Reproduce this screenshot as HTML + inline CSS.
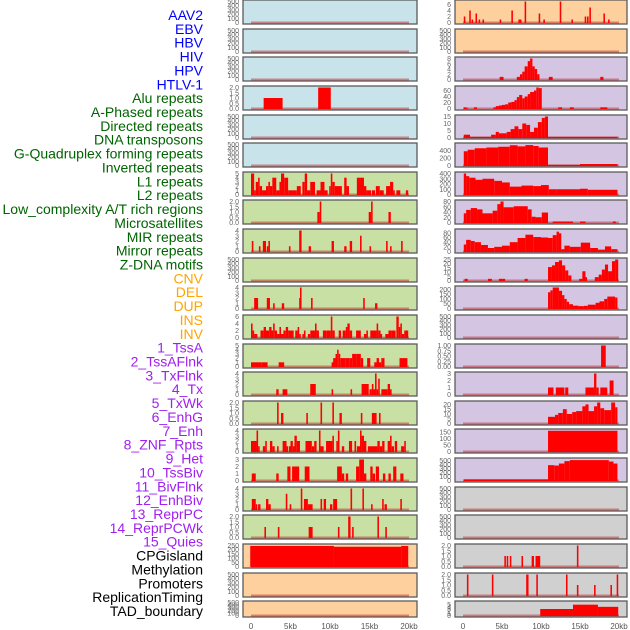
<!DOCTYPE html>
<html><head><meta charset="utf-8"><style>
body{margin:0;background:#fff;width:630px;height:630px;overflow:hidden}
svg{display:block}
</style></head><body>
<svg id="chart" width="630" height="630" xmlns="http://www.w3.org/2000/svg" font-family="Liberation Sans, sans-serif"></svg>
<script>
// ---------- data ----------
const rowLabels = ["AAV2","EBV","HBV","HIV","HPV","HTLV-1","Alu repeats","A-Phased repeats","Directed repeats","DNA transposons","G-Quadruplex forming repeats","Inverted repeats","L1 repeats","L2 repeats","Low_complexity A/T rich regions","Microsatellites","MIR repeats","Mirror repeats","Z-DNA motifs","CNV","DEL","DUP","INS","INV","1_TssA","2_TssAFlnk","3_TxFlnk","4_Tx","5_TxWk","6_EnhG","7_Enh","8_ZNF_Rpts","9_Het","10_TssBiv","11_BivFlnk","12_EnhBiv","13_ReprPC","14_ReprPCWk","15_Quies","CPGisland","Methylation","Promoters","ReplicationTiming","TAD_boundary"];
const labelColors = ["#0000ff","#0000ff","#0000ff","#0000ff","#0000ff","#0000ff","#006400","#006400","#006400","#006400","#006400","#006400","#006400","#006400","#006400","#006400","#006400","#006400","#006400","#ffa500","#ffa500","#ffa500","#ffa500","#ffa500","#a020f0","#a020f0","#a020f0","#a020f0","#a020f0","#a020f0","#a020f0","#a020f0","#a020f0","#a020f0","#a020f0","#a020f0","#a020f0","#a020f0","#a020f0","#000","#000","#000","#000","#000"];
const xTickValues = [0,5,10,15,20];
const xTickLabels = ["0","5kb","10kb","15kb","20kb"];
const EMPTY_TICKS = [0,100,200,300,400,500];
const leftBg = ["blue","blue","blue","blue","blue","blue","green","green","green","green","green","green","green","green","green","green","green","green","green","orange","orange","orange"];
const rightBg = ["orange","orange","purple","purple","purple","purple","purple","purple","purple","purple","purple","purple","purple","purple","purple","purple","purple","grey","grey","grey","grey","grey"];
const leftMax = [500,500,500,2,500,500,5,2,4,500,4,6,5,4,2,4,3,4,2,250,500,500];
const leftTicks = [EMPTY_TICKS,EMPTY_TICKS,EMPTY_TICKS,[0,0.5,1,1.5,2],EMPTY_TICKS,EMPTY_TICKS,[0,1,2,3,4,5],[0,0.5,1,1.5,2],[0,1,2,3,4],EMPTY_TICKS,[0,1,2,3,4],[0,2,4,6],[0,1,2,3,4,5],[0,1,2,3,4],[0,0.5,1,1.5,2],[0,1,2,3,4],[0,1,2,3],[0,1,2,3,4],[0,0.5,1,1.5,2],[0,50,100,150,200,250],EMPTY_TICKS,EMPTY_TICKS];
const leftSeg = [[],[],[],
[[1.6,4.0,1],[8.5,10.1,2]],
[],[],
[[0,0.4,5],[0.4,0.6,1],[0.6,0.9,3],[0.9,1.1,4],[1.1,1.4,2],[1.4,1.9,1],[1.9,2.2,2],[2.2,2.4,3],[2.4,2.7,2],[2.7,3.2,4],[3.2,3.6,1],[3.6,3.8,3],[3.8,4.2,5],[4.2,4.7,4],[4.7,5.8,1],[5.8,6.3,2],[6.5,6.8,3],[6.8,7.1,5],[7.1,7.5,1],[7.5,8.1,3],[8.3,8.8,1],[8.8,9.3,3],[9.3,9.7,1],[9.9,10.1,2],[10.1,10.3,5],[10.3,10.6,3],[10.6,11.5,2],[11.8,12.1,4],[12.1,12.4,2],[13.4,13.8,4],[13.8,14.3,4],[14.3,14.6,2],[14.6,15.2,1],[15.3,15.7,1],[15.8,16.3,2],[16.3,16.8,1],[17.1,17.6,2],[17.6,18,3],[18,18.2,1],[18.4,18.9,1],[19.6,19.9,1]],
[[8.4,8.7,1],[8.7,8.9,2],[14.9,15.2,1],[15.2,15.4,2],[17.4,17.7,1]],
[[0.1,0.3,2],[1,1.2,1],[1.5,1.9,2],[2,2.2,1],[2.2,2.4,2],[4.8,5,1],[6.1,6.4,4],[7.3,7.6,1],[10.2,10.5,2],[11.8,12.1,1],[12.5,12.8,2],[13.8,14,3],[15,15.2,1],[17.1,17.3,2],[17.6,17.8,1],[19,19.2,2]],
[],
[[0.4,0.9,2],[2,2.4,2],[2.8,3,1],[3.9,4.2,1],[6.1,6.3,2],[6.2,6.4,4],[7.6,7.8,2],[14.2,14.4,2],[15.7,16,1]],
[[0,0.2,4],[0.2,0.4,2],[0.4,0.8,1],[1.2,1.6,2],[1.6,1.9,3],[1.9,2.3,2],[2.3,2.6,3],[2.6,2.8,2],[2.8,3.0,4],[3.0,3.3,2],[3.3,3.6,1],[3.6,3.8,3],[3.8,4.1,1],[4.1,4.4,2],[4.4,4.7,3],[4.7,5.4,2],[5.6,5.9,2],[5.9,6.1,3],[6.1,6.3,1],[6.5,6.7,1],[6.7,6.9,2],[7.2,7.5,1],[7.5,8.1,2],[8.1,8.3,4],[8.3,8.6,2],[9.1,9.6,2],[9.6,10.1,2],[10.1,10.3,6],[10.3,10.6,2],[11.1,11.4,2],[11.6,12,2],[12,12.2,3],[12.2,12.5,4],[12.5,12.8,2],[13.3,13.9,2],[14.3,14.6,1],[14.6,14.8,2],[15.1,15.9,2],[15.9,16.1,4],[16.1,16.4,2],[16.4,16.6,1],[17,17.4,1],[17.4,17.8,2],[17.8,18.1,2],[18.1,18.3,2],[18.4,18.7,6],[18.7,18.9,3],[18.9,19.1,4],[19.1,19.4,1],[19.4,19.9,2]],
[[0,1.3,1],[1.3,2.1,1],[3.5,4.2,1],[10.2,10.5,1],[10.4,10.7,2],[10.7,10.9,3],[10.9,11.1,4],[11.1,11.3,3],[11.3,12.0,2],[12.0,12.5,2],[12.5,12.8,2],[12.8,13.4,3],[13.4,13.9,3],[13.9,14.2,2],[14.7,15.1,2],[15.6,16,1],[15.9,16.2,2],[16.2,16.5,1],[16.5,16.9,2],[18.8,19.8,2]],
[[3.2,3.5,1],[4.0,4.6,1],[7.5,8.2,2],[10.2,10.4,1],[12.6,12.8,1],[14.0,14.9,2],[15.0,15.3,1],[15.3,15.5,2],[15.5,15.7,1],[15.7,15.9,4],[15.9,16.1,1],[16.1,16.3,3],[16.5,17.3,1],[17.3,17.6,2],[17.6,17.8,1]],
[[3.3,3.5,2],[3.8,4.1,1],[7.0,7.2,1],[8.8,9.0,2],[10.3,10.5,2],[11.2,11.5,1],[13.9,14.1,1],[15.3,15.7,1],[15.7,15.9,1],[16.2,16.4,1]],
[[0,0.7,2],[0.7,0.9,4],[0.9,1.1,1],[1.5,1.8,1],[1.8,2.0,2],[2.4,2.7,2],[2.7,3.0,1],[3.3,3.5,1],[4.0,4.5,2],[4.5,4.7,1],[4.8,5.0,1],[5.0,5.3,2],[5.3,5.5,1],[5.5,5.8,3],[5.8,6.2,2],[6.9,7.7,2],[7.7,8.0,1],[8.0,8.3,2],[8.6,8.8,4],[8.8,9.2,1],[9.5,10.0,2],[10.0,10.3,2],[10.3,10.5,3],[10.8,11.0,2],[11.0,11.2,4],[11.5,11.8,1],[12.4,12.8,2],[13.1,13.3,2],[13.4,13.9,1],[13.8,14.0,4],[14.0,14.3,3],[14.3,14.6,2],[14.8,16.0,1],[16.0,16.3,2],[16.3,16.6,1],[16.6,16.9,2],[17.3,17.6,2],[17.6,17.8,3],[17.8,18.1,1],[18.2,18.5,2],[19.0,19.4,1],[19.4,19.6,2]],
[[0.1,0.6,1],[3.2,3.5,1],[4.6,5.0,2],[5.2,6.1,2],[6.8,7.4,2],[10.9,11.5,2],[11.5,11.8,1],[12.0,12.3,1],[13.3,13.7,2],[13.7,14.3,3],[14.3,14.6,1],[15.1,15.4,2],[15.4,15.7,1],[15.8,16.2,2],[16.7,17.0,1],[17.4,17.7,1],[18.0,18.4,2],[18.9,19.3,1]],
[[0.1,0.6,2],[0.6,0.8,1],[0.9,1.2,1],[1.9,2.2,2],[2.2,2.5,1],[4.4,4.6,3],[4.9,5.1,1],[6.3,6.5,4],[6.7,7.2,2],[7.2,7.8,1],[8.8,9.0,2],[9.2,9.5,2],[10.0,10.3,1],[10.4,10.9,2],[12.6,12.8,4],[14.1,14.3,4],[15.2,15.4,1],[16.6,16.8,2],[16.9,17.2,1],[18.9,19.1,2]],
[[1.7,1.9,1],[3.4,3.6,1],[7.3,7.8,1],[11.0,11.2,1],[12.3,12.6,2],[12.8,13.0,1],[16.0,16.2,2],[17.0,17.2,1]],
[[-0.1,10.5,245],[10.5,19,235],[19,19.9,245]],
[],[]];
const rightMax = [7,500,8,70,15,560,400,80,90,25,220,500,1,3,22,160,520,500,500,2,2,6];
const rightTicks = [[0,2,4,6],EMPTY_TICKS,[0,2,4,6,8],[0,20,40,60],[0,5,10,15],[0,200,400],[0,100,200,300,400],[0,20,40,60,80],[0,20,40,60,80],[0,5,10,15,20,25],[0,50,100,150,200],EMPTY_TICKS,[0,0.25,0.5,0.75,1],[0,1,2,3],[0,5,10,15,20],[0,50,100,150],[0,100,200,300,400,500],EMPTY_TICKS,EMPTY_TICKS,[0,0.5,1,1.5,2],[0,0.5,1,1.5,2],[0,1,2,3,4,5]];
const rightSeg = [
[[0.1,0.3,2],[0.8,1,4],[1.1,1.3,1],[1.6,1.8,3],[2,2.2,1],[2.5,2.7,1],[4.7,4.9,1],[6.2,6.4,4],[7.1,7.3,1],[7.3,7.5,1],[7.9,8.1,7],[9.7,9.9,3],[10.3,10.5,1],[12.4,12.6,7],[13.9,14.1,1],[15.6,15.8,2],[15.9,16.1,2],[16.2,16.4,5],[18,18.2,3],[18.6,18.8,1]],
[],
[[4.7,5.2,1],[6.9,7.3,1],[7.3,7.6,2],[7.6,7.9,3],[7.9,8.3,5],[8.3,8.6,7],[8.6,8.9,8],[8.9,9.2,5],[9.2,9.5,4],[9.5,9.8,2],[11.0,11.5,1],[17.6,18.0,1]],
[[0.1,0.4,4],[0.4,0.6,3],[1.4,1.8,4],[3.9,4.2,4],[4.2,4.6,8],[4.6,5,10],[5,5.4,12],[5.4,5.8,14],[5.8,6.2,20],[6.2,6.6,22],[6.6,6.9,28],[6.9,7.2,38],[7.2,7.6,45],[7.6,7.9,34],[7.9,8.3,40],[8.3,8.6,48],[8.6,9.1,55],[9.1,9.4,60],[9.4,9.7,70],[9.7,10.1,68],[12.2,12.7,4],[13.7,14.2,4],[17.6,18,4],[18,18.5,4]],
[[0.1,0.9,2],[0.9,3.6,0.5],[3.6,4.2,2],[4.2,4.6,4],[4.6,5.6,3],[5.6,6.1,4],[6.1,6.6,6],[6.6,7.1,8],[7.1,7.6,6],[7.6,8.1,10],[8.1,8.6,9],[8.6,9.1,4],[9.1,9.6,7],[9.6,10.1,11],[10.1,10.5,14],[10.5,10.9,15],[10.9,19.8,0.5]],
[[0.1,0.6,380],[0.6,1.5,420],[1.5,3,460],[3,4.5,480],[4.5,6,500],[6,7,540],[7,8,510],[8,9,545],[9,9.7,520],[9.7,10.9,480],[10.9,15,20],[15,19.8,40]],
[[0.1,0.4,400],[0.4,0.8,350],[0.8,1.6,320],[1.6,2.5,280],[2.5,4,300],[4,5,260],[5,6,230],[6,7.5,150],[7.5,9,170],[9,10,160],[10,11,180],[11,12,100],[12,15,100],[15,16,110],[16,19.8,90]],
[[0.1,0.4,35],[0.4,1,48],[1,1.8,55],[1.8,2.5,50],[2.5,3.8,35],[3.8,4.4,45],[4.4,4.8,70],[4.8,5.2,80],[5.2,6.5,58],[6.5,8.3,62],[8.3,8.8,50],[8.8,9.3,22],[9.3,10.1,20],[10.1,10.9,38],[11.5,14.1,4],[15,15.7,4],[19.2,19.6,4]],
[[0.1,0.4,30],[0.4,1,50],[1,1.5,45],[1.5,2.3,40],[2.3,3.2,28],[3.2,4,15],[4,5,20],[5,6,25],[6,7,40],[7,8,58],[8,9,72],[9,10,62],[10,10.9,60],[10.9,11.5,58],[11.5,12,70],[12,12.3,85],[12.3,12.6,78],[12.6,13,10],[13,13.7,25],[13.7,15.1,20],[15.1,16.3,38],[16.3,17.3,15],[17.3,18.2,8],[18.2,19,22],[19,19.8,10]],
[[0.2,0.6,2],[3.2,3.7,2],[4.6,5.4,2],[7.9,8.3,2],[10.9,11.4,16],[11.4,11.8,18],[11.8,12.3,22],[12.3,12.7,24],[12.7,13.1,18],[13.1,13.5,12],[13.5,13.9,6],[14.9,15.3,2],[15.3,15.7,11],[15.7,15.9,4],[16.9,17.4,4],[17.4,17.8,7],[17.8,18.2,13],[18.2,18.6,19],[18.6,19.1,11],[19.1,19.5,23],[19.5,19.9,25]],
[[10.9,11.2,170],[11.2,11.5,190],[11.5,12.3,220],[12.3,12.7,185],[12.7,13,140],[13,13.3,100],[13.3,13.6,70],[13.6,14.1,45],[14.1,14.8,30],[14.8,15.5,25],[15.5,16,28],[16,17,40],[17,17.5,60],[17.5,18.1,75],[18.1,18.5,100],[18.5,19.5,125],[19.5,19.8,115]],
[],
[[17.7,18.3,1]],
[[10.9,11.6,1],[11.9,13,1],[13.1,13.5,1],[15.7,16.8,1],[16.8,17.1,3],[17.1,17.4,1],[17.6,18.5,1],[18.8,19.3,2]],
[[10.9,11.8,7],[11.8,12.2,9],[12.2,12.8,11],[12.8,13.3,15],[13.3,14,10],[14,14.5,12],[14.5,15.3,13],[15.3,15.7,18],[15.7,16.1,20],[16.1,16.8,13],[16.8,17.2,18],[17.2,17.6,22],[17.6,18.1,16],[18.1,19,14],[19,19.5,23],[19.5,19.8,17]],
[[10.9,19.8,158]],
[[0.1,10.9,30],[10.9,11.7,380],[11.7,12.3,370],[12.3,13,420],[13,13.7,480],[13.7,18.7,505],[18.7,19.3,470],[19.3,19.8,420]],
[],[],
[[5.3,5.5,1],[5.6,5.8,1],[6.0,6.2,1],[7.5,7.7,1],[8.8,9.1,1],[9.3,9.9,1],[14.6,14.8,2]],
[[0.5,0.7,2],[3.7,3.9,2],[8.1,8.4,2],[9.4,9.6,2],[13.2,13.4,2],[14.6,14.8,1],[16.8,17,1],[18.9,19.1,1],[19.7,19.9,2]],
[[9.9,14.1,3],[14.1,17.3,5],[17.3,19.9,4]]];

// ---------- layout ----------
const NS = "http://www.w3.org/2000/svg";
const svg = document.getElementById("chart");
const colors = {blue:"#c8e3ea",green:"#c8e0a4",orange:"#fed09e",purple:"#d4c6e2",grey:"#d0d0d0"};
const rowTops = [0,29,57,86,115,143,172,200,229,258,286,315,344,372,401,429,458,487,515,544,573,601];
function rowH(i){return i===21?16:24;}
const cols = [
  {px0:243,px1:417,x0:251,x1:409,bg:leftBg,max:leftMax,ticks:leftTicks,seg:leftSeg,name:"left"},
  {px0:455,px1:627,x0:463,x1:619,bg:rightBg,max:rightMax,ticks:rightTicks,seg:rightSeg,name:"right"}];
function el(tag,attrs,parent){const e=document.createElementNS(NS,tag);for(const k in attrs)e.setAttribute(k,attrs[k]);(parent||svg).appendChild(e);return e;}
function fmt(v,ticks){const dec=ticks.some(t=>Math.abs(t-Math.round(t))>1e-9);if(!dec)return String(v);return ticks.some(t=>Math.abs(t*4-Math.round(t*4))<1e-9&&Math.abs(t*2-Math.round(t*2))>1e-9)?v.toFixed(2):v.toFixed(1);}

// labels
const n = rowLabels.length;
rowLabels.forEach((lab,i)=>{
  const t=el("text",{x:203,y:20+i*(596/(n-1)),"text-anchor":"end","font-size":"14",fill:labelColors[i]});
  
  
  t.textContent=lab;
});

cols.forEach(c=>{
  const xs=v=>c.x0+(v/20)*(c.x1-c.x0);
  rowTops.forEach((top,i)=>{
    const h=rowH(i),bottom=top+h;
    const g=el("g",{});
    
    
    const bg=el("rect",{x:c.px0,y:top,width:c.px1-c.px0,height:h,fill:colors[c.bg[i]],stroke:"#5a5a5a","stroke-width":"1.3"},g);
    
    
    const y0=bottom-1.5,y1=top+1.5,mx=c.max[i];
    const ys=v=>y0-(v/mx)*(y0-y1);
    const base=el("line",{x1:xs(0),x2:xs(20),y1:y0,y2:y0,stroke:"rgba(190,20,20,0.45)","stroke-width":"2"},g);
    
    
    c.seg[i].forEach(s=>{
      const v=Math.min(s[2],mx);
      const b=el("rect",{x:xs(s[0]),y:ys(v),width:Math.max(1.2,xs(s[1])-xs(s[0])),height:y0-ys(v)+0.5,fill:"#ff0000"},g);
      
      
    });
    const tk=c.ticks[i];
    tk.forEach(v=>{
      const t=el("text",{x:c.px0-4,y:ys(v)+2.5,"text-anchor":"end","font-size":"7",fill:"#666"},g);
      
      
      t.textContent=fmt(v,tk);
    });
  });
  xTickValues.forEach((v,k)=>{
    const t=el("text",{x:xs(v),y:629,"text-anchor":"middle","font-size":"8",fill:"#555"});
    
    
    t.textContent=xTickLabels[k];
  });
});
</script>
</body></html>
